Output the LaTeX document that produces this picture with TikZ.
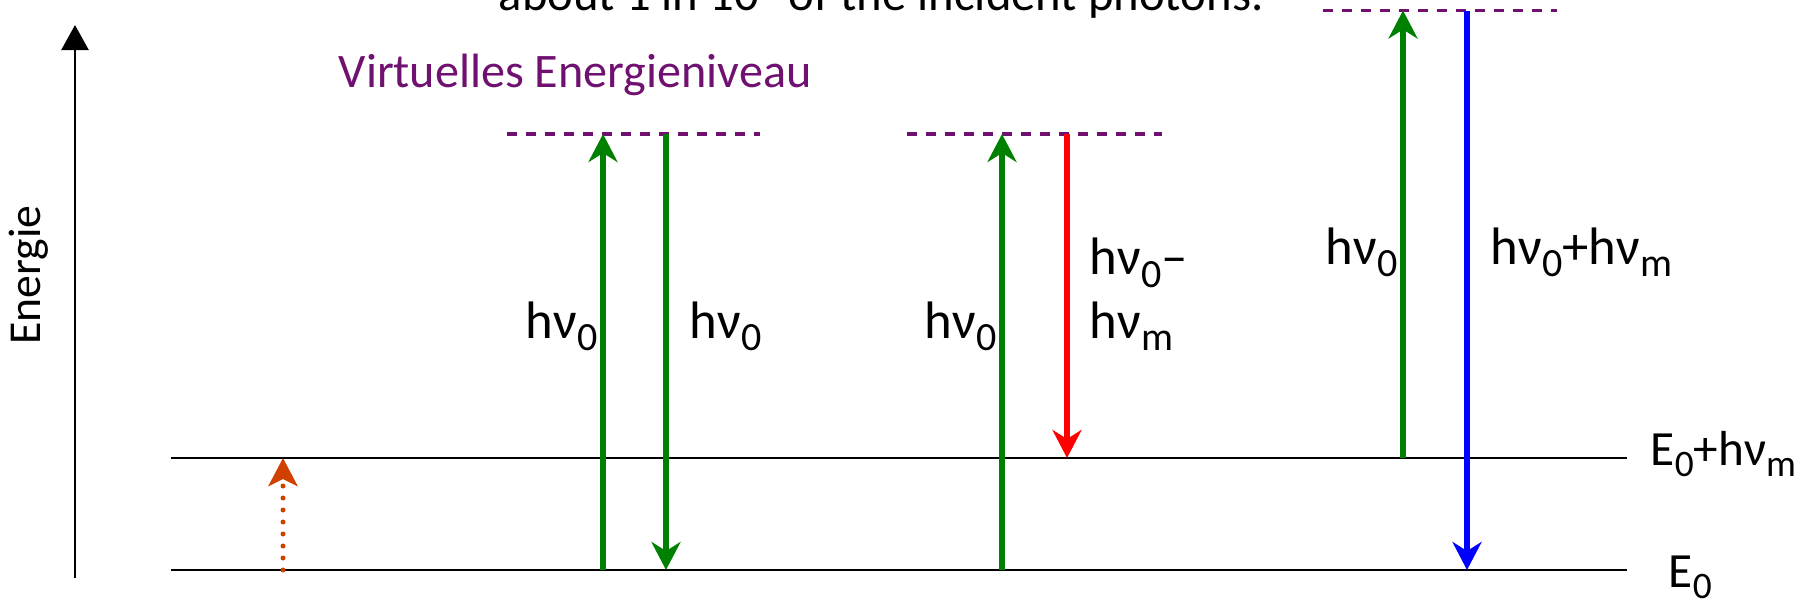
\documentclass[tikz,border=0pt]{standalone}
\usepackage{fontspec}
\usepackage{graphicx}
\setmainfont{Carlito}
\usetikzlibrary{arrows.meta}

\definecolor{lila}{RGB}{112,16,112}
\definecolor{gruen}{RGB}{0,128,0}
\definecolor{rostrot}{RGB}{208,64,0}

\newcommand{\tief}[1]{\raisebox{-0.24em}{\scalebox{0.76}{#1}}}

\tikzset{
  niveau/.style={line width=0.6pt},
  virtuell/.style={lila,line width=1pt,dash pattern=on 0.1cm off 0.09cm},
  photon/.style={-{Stealth[length=0.28cm,width=0.29cm,inset=0.09cm]},line width=1.5pt},
  hv/.style={font=\fontsize{15}{18}\selectfont,inner sep=0pt},
  elbl/.style={font=\fontsize{14}{17}\selectfont,inner sep=0pt,anchor=base west},
}

\begin{document}
\begin{tikzpicture}[>=Stealth]
\useasboundingbox (0,0) rectangle (18.14,6.05);
\clip (0,0) rectangle (18.14,6.05);
% Energieachse
\coordinate (achse0) at (0.75,0.27);
\coordinate (achse1) at (0.75,5.80);
\draw[-{Triangle[length=0.25cm,width=0.27cm]},line width=0.7pt] (achse0)--(achse1);
\node[rotate=90,font=\fontsize{13}{16}\selectfont] (energie) at (0.29,3.30) {Energie};
\node[anchor=base west,inner sep=0pt,font=\fontsize{13.85}{17}\selectfont] (anteil) at (4.98,5.95) {about 1 in 10\textsuperscript{7} of the incident photons.};
% Niveaus
\coordinate (E0l) at (1.71,0.35);
\coordinate (E0r) at (16.27,0.35);
\coordinate (E1l) at (1.71,1.47);
\coordinate (E1r) at (16.27,1.47);
\draw[niveau] (E0l)--(E0r);
\draw[niveau] (E1l)--(E1r);
\node[elbl] (E1lbl) at (16.50,1.40) {E\tief{0}+hν\tief{m}};
\node[elbl] (E0lbl) at (16.68,0.18) {E\tief{0}};
% virtuelle Niveaus
\coordinate (V1l) at (5.07,4.71);
\coordinate (V1r) at (7.60,4.71);
\coordinate (V2l) at (9.07,4.71);
\coordinate (V2r) at (11.62,4.71);
\coordinate (V3l) at (13.23,5.945);
\coordinate (V3r) at (15.57,5.945);
\draw[virtuell] (V1l)--(V1r);
\draw[virtuell] (V2l)--(V2r);
\draw[virtuell] (V3l)--(V3r);
\node[anchor=base west,inner sep=0pt,lila,font=\fontsize{13.7}{17}\selectfont] (virt) at (3.38,5.18) {Virtuelles Energieniveau};
% thermische Anregung
\coordinate (t0) at (2.83,0.35);
\coordinate (t1) at (2.83,1.47);
\draw[-{Stealth[length=0.28cm,width=0.29cm,inset=0.07cm]},rostrot,line width=0.05cm,line cap=round,dash pattern=on 0pt off 0.12cm] (t0)--(t1);
% Rayleigh
\coordinate (r1u) at (6.03,0.35);
\coordinate (r1o) at (6.03,4.71);
\coordinate (r2o) at (6.66,4.71);
\coordinate (r2u) at (6.66,0.35);
\draw[photon,gruen] (r1u)--(r1o);
\draw[photon,gruen] (r2o)--(r2u);
\node[hv,anchor=base east] (r1lbl) at (5.98,2.67) {hν\tief{0}};
\node[hv,anchor=base west] (r2lbl) at (6.89,2.67) {hν\tief{0}};
% Stokes
\coordinate (s1u) at (10.02,0.35);
\coordinate (s1o) at (10.02,4.71);
\coordinate (s2o) at (10.67,4.71);
\coordinate (s2u) at (10.67,1.47);
\draw[photon,gruen] (s1u)--(s1o);
\draw[photon,red] (s2o)--(s2u);
\node[hv,anchor=base east] (s1lbl) at (9.97,2.67) {hν\tief{0}};
\node[hv,anchor=base west,align=left] (s2lbl) at (10.89,2.67) {hν\tief{0}–\\hν\tief{m}};
% Anti-Stokes
\coordinate (a1u) at (14.03,1.47);
\coordinate (a1o) at (14.03,5.945);
\coordinate (a2o) at (14.67,5.945);
\coordinate (a2u) at (14.67,0.35);
\draw[photon,gruen] (a1u)--(a1o);
\draw[photon,blue] (a2o)--(a2u);
\node[hv,anchor=base east] (a1lbl) at (13.98,3.41) {hν\tief{0}};
\node[hv,anchor=base west] (a2lbl) at (14.90,3.41) {hν\tief{0}+hν\tief{m}};
\end{tikzpicture}
\end{document}
